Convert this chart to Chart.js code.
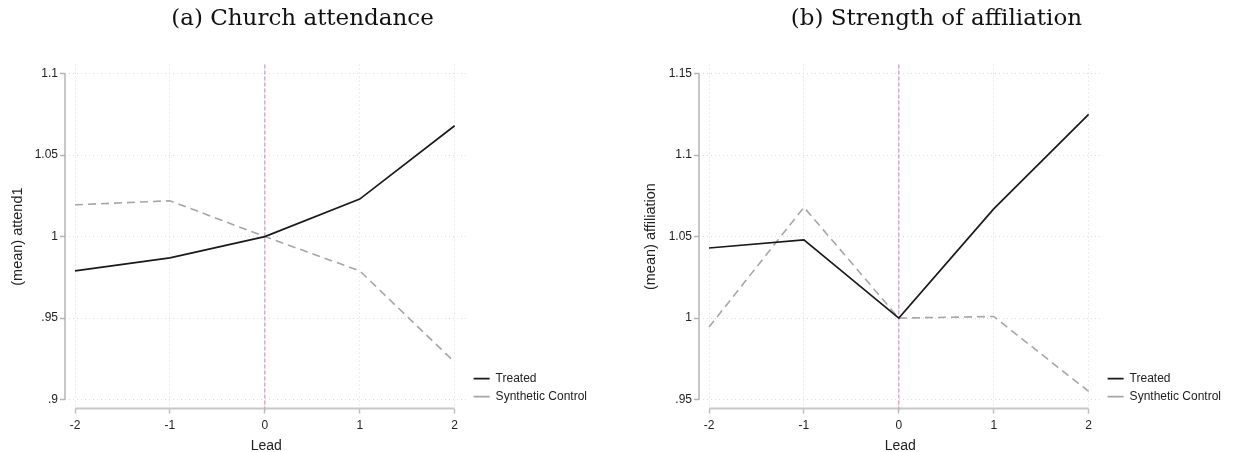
<!DOCTYPE html>
<html>
<head>
<meta charset="utf-8">
<script src="https://cdn.jsdelivr.net/npm/chart.js@4.4.1/dist/chart.umd.min.js"></script>
<style>
  html, body { margin: 0; padding: 0; background: #fff; }
  .wrap { display: flex; width: 1237px; height: 452px; }
  canvas { display: block; }
</style>
</head>
<body>
<div class="wrap">
  <canvas id="attendChart" width="618" height="452"></canvas>
  <canvas id="affilChart" width="619" height="452"></canvas>
</div>
<script>
// values
const leads = [-2, -1, 0, 1, 2];
const attendTreated = [0.979, 0.987, 1.0, 1.023, 1.068];
const attendSynthetic = [1.0195, 1.022, 1.0, 0.979, 0.923];
const affilTreated = [1.043, 1.048, 1.0, 1.067, 1.125];
const affilSynthetic = [0.9945, 1.068, 1.0, 1.001, 0.955];
const attendTicks = [0.9, 0.95, 1, 1.05, 1.1];
const affilTicks = [0.95, 1, 1.05, 1.1, 1.15];
const treatmentLead = 0;

const SANS = "'Liberation Sans', Arial, sans-serif";
const SERIF = "'DejaVu Serif', 'Liberation Serif', serif";

// stata style: .95 instead of 0.95
function stataNum(v) {
  return String(Number(v.toFixed(2))).replace(/^0\./, ".");
}

// axis lines that stop at the first/last tick, plus the dashed treatment line
const axisLines = {
  id: "axisLines",
  beforeDatasetsDraw(chart, args, opts) {
    const { ctx, chartArea: a, scales: { x, y } } = chart;
    const yt = opts.yTicks;
    ctx.save();
    ctx.strokeStyle = "#b4b4b4";
    ctx.lineWidth = 1.5;
    ctx.beginPath();
    ctx.moveTo(a.left, y.getPixelForValue(yt[0]));
    ctx.lineTo(a.left, y.getPixelForValue(yt[yt.length - 1]));
    ctx.stroke();
    ctx.strokeStyle = "#c8c8c8";
    ctx.lineWidth = 2;
    ctx.beginPath();
    ctx.moveTo(x.getPixelForValue(leads[0]), a.bottom);
    ctx.lineTo(x.getPixelForValue(leads[leads.length - 1]), a.bottom);
    ctx.stroke();

    const tx = x.getPixelForValue(treatmentLead);
    ctx.strokeStyle = "#d6a0be";
    ctx.lineWidth = 1.3;
    ctx.setLineDash([4, 2]);
    ctx.beginPath();
    ctx.moveTo(tx, a.top);
    ctx.lineTo(tx, a.bottom + 2);
    ctx.stroke();
    ctx.restore();
  },
};

function makeChart(id, title, yTitle, treated, synthetic, yTicks, pad) {
  const step = yTicks[1] - yTicks[0];
  const yPad = step * 0.11;
  new Chart(document.getElementById(id).getContext("2d"), {
    type: "line",
    data: {
      labels: leads,
      datasets: [
        {
          label: "Treated",
          data: leads.map((l, i) => ({ x: l, y: treated[i] })),
          borderColor: "#1a1a1a",
          borderWidth: 1.7,
          pointRadius: 0,
          tension: 0,
        },
        {
          label: "Synthetic Control",
          data: leads.map((l, i) => ({ x: l, y: synthetic[i] })),
          borderColor: "#a6a6a6",
          borderWidth: 1.6,
          borderDash: [8, 5],
          pointRadius: 0,
          tension: 0,
        },
      ],
    },
    options: {
      responsive: false,
      animation: false,
      layout: { padding: { left: pad.left, right: pad.right, top: 0, bottom: -1 } },
      plugins: {
        title: {
          display: true,
          text: title,
          color: "#111",
          font: { family: SERIF, size: 23, weight: "normal" },
          padding: { top: 5, bottom: 32 },
        },
        legend: {
          position: "right",
          align: "end",
          fullSize: false,
          labels: {
            color: "#222",
            font: { family: SANS, size: 12 },
            usePointStyle: true,
            pointStyle: "line",
            pointStyleWidth: 16,
            boxHeight: 12,
            padding: 6,
          },
        },
        tooltip: { enabled: false },
        axisLines: { yTicks },
      },
      scales: {
        x: {
          type: "linear",
          min: leads[0] - 0.1055,
          max: leads[leads.length - 1] + 0.137,
          afterBuildTicks(scale) {
            scale.ticks = leads.map((v) => ({ value: v }));
          },
          ticks: {
            color: "#222",
            font: { family: SANS, size: 12 },
            padding: 5,
            maxRotation: 0,
            callback: (v) => String(v),
          },
          grid: {
            color: "#dcdcdc",
            lineWidth: 1,
            tickLength: 5,
            tickColor: "#c0c0c0",
            tickWidth: 1.5,
            tickBorderDash: [],
          },
          border: { display: false, dash: [1, 3] },
          title: {
            display: true,
            text: "Lead",
            color: "#222",
            font: { family: SANS, size: 14, lineHeight: 1 },
            padding: { top: 1, bottom: 0 },
          },
        },
        y: {
          min: yTicks[0] - yPad,
          max: yTicks[yTicks.length - 1] + yPad,
          afterBuildTicks(scale) {
            scale.ticks = yTicks.map((v) => ({ value: v }));
          },
          afterFit(scale) {
            scale.width = pad.yWidth;
          },
          ticks: {
            color: "#222",
            font: { family: SANS, size: 12 },
            padding: 2,
            callback: (v) => stataNum(v),
          },
          grid: {
            color: "#dcdcdc",
            lineWidth: 1,
            tickLength: 5,
            tickColor: "#b4b4b4",
            tickWidth: 1.5,
            tickBorderDash: [],
          },
          border: { display: false, dash: [1, 3] },
          title: {
            display: true,
            text: yTitle,
            color: "#222",
            font: { family: SANS, size: 14.5 },
            padding: { top: pad.yTitle, bottom: 0 },
          },
        },
      },
    },
    plugins: [axisLines],
  });
}

makeChart("attendChart", "(a) Church attendance", "(mean) attend1",
  attendTreated, attendSynthetic, attendTicks,
  { left: 8, right: 21, yWidth: 57, yTitle: 1 });
makeChart("affilChart", "(b) Strength of affiliation", "(mean) affiliation",
  affilTreated, affilSynthetic, affilTicks,
  { left: 24, right: 6, yWidth: 57, yTitle: 0 });
</script>
</body>
</html>
